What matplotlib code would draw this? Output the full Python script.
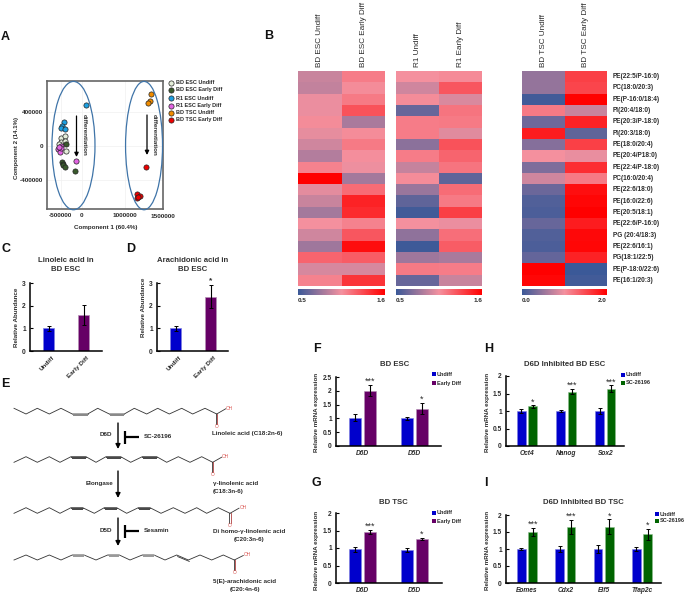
import matplotlib
matplotlib.use("Agg")
import matplotlib.pyplot as plt
from matplotlib.cm import ScalarMappable
from matplotlib.colors import LinearSegmentedColormap, Normalize
from matplotlib.patches import Ellipse

W, H = 685, 596
plt.rcParams['font.family'] = ['Liberation Sans', 'DejaVu Sans']

# panel A: PCA scores
pca_names = ["BD ESC Undiff", "BD ESC Early Diff", "R1 ESC Undiff", "R1 ESC Early Diff", "BD TSC Undiff", "BD TSC Early Diff"]
pca_colors = ["#e4edd9", "#3a5a2c", "#1c9fe0", "#e264e2", "#f08c00", "#ee0000"]
pca_x = [
    [-488000, -388000, -496000, -395000, -372000, -527000],
    [-372000, -465000, -434000, -450000, -395000, -170000],
    [-411000, -465000, -488000, -388000, 93000],
    [-496000, -550000, -504000, -481000, -132000, -527000],
    [1612000, 1574000, 1527000],
    [1488000, 1287000, 1349000, 1271000, 1295000],
]
pca_y = [
    [90000, 113000, 51000, 62000, -55000, 23000],
    [19000, -185000, -212000, -228000, -248000, -295000],
    [286000, 235000, 207000, 196000, 486000],
    [3000, -36000, -67000, -24000, -177000, -8000],
    [611000, 533000, 509000],
    [-252000, -565000, -589000, -608000, -597000],
]

# panel B: lipid heatmaps
lipids = ["PE(22:5/P-16:0)", "PC(18:0/20:3)", "PE(P-16:0/18:4)", "PI(20:4/18:0)", "PE(20:3/P-18:0)",
          "PI(20:3/18:0)", "PE(18:0/20:4)", "PE(20:4/P18:0)", "PE(22:4/P-18:0)", "PC(16:0/20:4)",
          "PE(22:6/18:0)", "PE(16:0/22:6)", "PE(20:5/18:1)", "PE(22:6/P-16:0)", "PG (20:4/18:3)",
          "PE(22:6/16:1)", "PG(18:1/22:5)", "PE(P-18:0/22:6)", "PE(16:1/20:3)"]
bd_esc_undiff = [.92, .90, 1.02, 1.02, 1.07, 1.01, .94, .86, 1.11, 1.6, 1.0, .92, .81, 1.05, .94, .80, 1.22, .96, 1.11]
bd_esc_early = [1.13, 1.07, 1.14, 1.29, .83, 1.07, 1.14, 1.06, 1.03, .81, 1.19, 1.47, 1.44, 1.11, 1.27, 1.55, 1.25, .96, 1.40]
r1_undiff = [1.05, .94, 1.07, .63, 1.13, 1.13, .74, 1.13, .91, 1.07, .78, .61, .52, 1.05, .75, .51, .80, 1.14, .63]
r1_early = [1.08, 1.27, .97, 1.16, 1.14, .99, 1.29, 1.22, 1.16, .61, 1.19, 1.14, 1.36, 1.02, 1.18, 1.25, .83, 1.13, .92]
bd_tsc_undiff = [.48, .48, .04, 1.16, .28, 1.80, .40, 1.0, .36, .80, .26, .12, .10, .24, .12, .10, .22, 2.0, 1.96]
bd_tsc_early = [1.56, 1.52, 2.0, .76, 1.76, .20, 1.56, .94, 1.68, 1.16, 1.90, 1.96, 2.0, 1.80, 1.94, 1.96, 1.76, 0.0, .04]

# panels C, D: relative abundance
abund_labels = ["Undiff", "Early Diff"]
linoleic = [1.0, 1.6]
linoleic_err = [.1, .45]
arachidonic = [1.0, 2.4]
arachidonic_err = [.12, .52]

# panels F-I: qPCR, each as (control, treated)
f_genes = ["D6D", "D5D"]
f_ctrl, f_ctrl_err = [1.03, 1.0], [.13, .05]
f_trt, f_trt_err = [2.0, 1.35], [.2, .2]
f_stars = ["***", "*"]
g_genes = ["D6D", "D5D"]
g_ctrl, g_ctrl_err = [.97, .95], [.07, .06]
g_trt, g_trt_err = [1.45, 1.25], [.06, .03]
g_stars = ["***", "*"]
h_genes = ["Oct4", "Nanog", "Sox2"]
h_ctrl, h_ctrl_err = [1.0, 1.0, 1.0], [.05, .02, .08]
h_trt, h_trt_err = [1.13, 1.55, 1.63], [.03, .07, .1]
h_stars = ["*", "***", "***"]
i_genes = ["Eomes", "Cdx2", "Elf5", "Tfap2c"]
i_ctrl, i_ctrl_err = [1.0, 1.0, 1.0, 1.0], [.04, .08, .11, .07]
i_trt, i_trt_err = [1.5, 1.65, 1.65, 1.43], [.13, .2, .22, .17]
i_stars = ["***", "***", "*", "*"]

BLUE = "#0000cc"
PURPLE = "#660066"
GREEN = "#006400"
TXT = "#2b2b2b"

fig = plt.figure(figsize=(W / 100, H / 100), dpi=100)


def ax_px(l, t, r, b, **kw):
    # axes from pixel edges, y counted from the top of the image
    return fig.add_axes([l / W, 1 - b / H, (r - l) / W, (b - t) / H], **kw)


# overlay in pixel coordinates for letters, labels and the pathway
ov = ax_px(0, 0, W, H, zorder=5)
ov.set_xlim(0, W)
ov.set_ylim(H, 0)
ov.axis("off")
ov.patch.set_alpha(0)


def label(x, y, s, size=4.5, ha="left", va="center", weight="bold", **kw):
    ov.text(x, y, s, fontsize=size, ha=ha, va=va, fontweight=weight, color=kw.pop("color", TXT), **kw)


for s, x, y in [("A", 1, 37), ("B", 264, 36), ("C", 1, 249), ("D", 126, 249), ("E", 1, 384),
                ("F", 313, 349), ("G", 312, 483), ("H", 484, 349), ("I", 484, 483)]:
    label(x, y, s, size=9, weight="bold", color="#111111")

# ---- A ----
ax = ax_px(47, 81, 163, 209)
ax.set_xlim(-814000, 1884000)
ax.set_ylim(-741000, 765000)
ax.grid(color="#f0f0f0", lw=0.5)
ax.set_axisbelow(True)
for name, c, xs, ys in zip(pca_names, pca_colors, pca_x, pca_y):
    ax.scatter(xs, ys, s=14, c=c, edgecolors="#222222", linewidths=0.5, zorder=3)
for cx, wd in [(-198000, 1000000), (1443000, 860000)]:
    ax.add_patch(Ellipse((cx, 5000), wd, 1510000, fill=False, ec="#3f74a8", lw=0.9, zorder=4, clip_on=False))
ax.set_xticks([-500000, 0, 1000000])
ax.set_xticklabels(["-500000", "0", "1000000"], fontsize=4.6, fontweight="bold", color=TXT)
ax.set_yticks([-400000, 0, 400000])
ax.set_yticklabels(["-400000", "0", "400000"], fontsize=4.6, fontweight="bold", color=TXT)
ax.tick_params(length=0, pad=3)
for sp in ax.spines.values():
    sp.set_color("#666666")
    sp.set_linewidth(1.2)
label(163, 217, "1500000", size=4.6, ha="center")
label(106, 227, "Component 1 (60.4%)", size=4.5, ha="center")
label(17, 148, "Component 2 (14.1%)", size=4.4, ha="center", rotation=90)
for i, (name, c) in enumerate(zip(pca_names, pca_colors)):
    y = [83, 90, 98, 106, 113, 120][i]
    ov.scatter([171], [y], s=14, c=c, edgecolors="#222222", linewidths=0.5)
    label(176, y, name, size=4.0)
for xa, ytop, ybot, xt in [(76.5, 116, 157, 84), (147, 115, 155, 154)]:
    ov.annotate("", xy=(xa, ybot), xytext=(xa, ytop),
                arrowprops=dict(arrowstyle="-|>", color="black", lw=0.9, mutation_scale=6, shrinkA=0, shrinkB=0))
    label(xt, 135, "differentiation", size=4.5, ha="center", rotation=270)

# ---- B ----
hm_cmap = LinearSegmentedColormap.from_list("hm", ["#3b5998", "#f4919f", "#ff0000"])
hm_panels = [
    (298, 385, .5, 1.6, "0.5", "1.6", bd_esc_undiff, bd_esc_early, "BD ESC Undiff", "BD ESC Early Diff"),
    (396, 482, .5, 1.6, "0.5", "1.6", r1_undiff, r1_early, "R1 Undiff", "R1 Early Diff"),
    (522, 607, 0.0, 2.0, "0.0", "2.0", bd_tsc_undiff, bd_tsc_early, "BD TSC Undiff", "BD TSC Early Diff"),
]
for l, r, vmin, vmax, lo, hi, col1, col2, n1, n2 in hm_panels:
    hax = ax_px(l, 71, r, 286)
    grid = [[a, b] for a, b in zip(col1, col2)]
    hax.pcolormesh(grid, cmap=hm_cmap, vmin=vmin, vmax=vmax, edgecolors="face", linewidth=0)
    hax.invert_yaxis()
    hax.axis("off")
    cax = ax_px(l, 289, r, 295)
    cb = fig.colorbar(ScalarMappable(Normalize(vmin, vmax), hm_cmap), cax=cax, orientation="horizontal")
    cb.outline.set_visible(False)
    cb.set_ticks([vmin, vmax])
    cb.set_ticklabels([lo, hi], fontsize=4.6, fontweight="bold", color=TXT)
    cax.tick_params(length=0, pad=2)
    cax.get_xticklabels()[0].set_ha("left")
    cax.get_xticklabels()[1].set_ha("right")
    for frac, s in [(.25, n1), (.75, n2)]:
        label(l + (r - l) * frac, 67, s, size=5.9, ha="center", va="bottom", rotation=90, weight="normal")
for i, s in enumerate(lipids):
    label(613, 71 + (i + .5) * 215 / 19, s, size=4.7)


def style_bars(a, yticks):
    a.spines["top"].set_visible(False)
    a.spines["right"].set_visible(False)
    a.spines["left"].set_linewidth(1.1)
    a.spines["bottom"].set_linewidth(1.1)
    a.set_yticks(yticks)
    a.set_yticklabels([f"{t:g}" for t in yticks], fontsize=4.8, fontweight="bold", color=TXT)
    a.tick_params(axis="y", length=2, width=0.8, pad=3, direction="in")
    a.tick_params(axis="x", length=0)
    a.patch.set_alpha(0)


# ---- C, D ----
for l, r, c0, vals, errs, title, tcx, yc in [
    (30, 102, 48.5, linoleic, linoleic_err, "Linoleic acid in\nBD ESC", 66, 317),
    (157, 228, 175.5, arachidonic, arachidonic_err, "Arachidonic acid in\nBD ESC", 193, 307),
]:
    a = ax_px(l, 283, r, 351)
    a.set_xlim((l - c0) / 35, (r - c0) / 35)
    a.set_ylim(0, 3)
    a.bar([0, 1], vals, width=11 / 35, color=[BLUE, PURPLE], edgecolor=["#7f7fe0", "#b58fb5"], linewidth=0.5,
          yerr=errs, ecolor="black", error_kw=dict(lw=0.8, capsize=1.5, capthick=0.7))
    style_bars(a, [0, 1, 2, 3])
    a.set_xticks([])
    label(tcx, 265, title, size=5.6, ha="center", color="#333333", linespacing=1.35)
    label(l - 13, yc, "Relative Abundance", size=4.5, ha="center", rotation=90)
    for i, s in enumerate(abund_labels):
        ov.text(c0 + 35 * i + 3, 355, s, fontsize=4.6, fontweight="bold", rotation=45, ha="right", va="top",
                rotation_mode="anchor", color=TXT)
label(210.5, 281, "*", size=6, ha="center", va="center")


# ---- F, G, H, I ----
def qpcr(l, t, r, b, ymax, yticks, c0, step, bw, off, genes, ctrl, cerr, trt, terr, stars, color2):
    a = ax_px(l, t, r, b)
    a.set_xlim((l - c0) / step, (r - c0) / step)
    a.set_ylim(0, ymax)
    xs = list(range(len(genes)))
    ek = dict(lw=0.8, capsize=1.5, capthick=0.7)
    a.bar([x - off / step for x in xs], ctrl, width=bw / step, color=BLUE, edgecolor="#7f7fe0", linewidth=0.4,
          yerr=cerr, ecolor="black", error_kw=ek)
    edge2 = "#b58fb5" if color2 == PURPLE else "#8fbf8f"
    a.bar([x + off / step for x in xs], trt, width=bw / step, color=color2, edgecolor=edge2, linewidth=0.4,
          yerr=terr, ecolor="black", error_kw=ek)
    for x, v, e, s in zip(xs, trt, terr, stars):
        a.text(x + off / step, v + e - ymax * .012, s, ha="center", va="bottom", fontsize=6.5, color=TXT)
    style_bars(a, yticks)
    a.set_xticks(xs)
    a.set_xticklabels(genes, fontsize=4.8, fontweight="bold", style="italic", color=TXT)
    a.tick_params(axis="x", length=0, pad=3)
    return a


qpcr(336, 377, 441, 446, 2.5, [0, .5, 1, 1.5, 2, 2.5], 362.5, 52, 11.7, 7.3, f_genes, f_ctrl, f_ctrl_err, f_trt, f_trt_err, f_stars, PURPLE)
qpcr(336, 513, 442, 583, 2, [0, .5, 1, 1.5, 2], 362.5, 52, 11.7, 7.3, g_genes, g_ctrl, g_ctrl_err, g_trt, g_trt_err, g_stars, PURPLE)
qpcr(506, 376, 624, 446, 2, [0, .5, 1, 1.5, 2], 527, 39.2, 8.7, 5.7, h_genes, h_ctrl, h_ctrl_err, h_trt, h_trt_err, h_stars, GREEN)
qpcr(506, 515, 661, 583, 2, [0, .5, 1, 1.5, 2], 527, 38.3, 8.7, 5.7, i_genes, i_ctrl, i_ctrl_err, i_trt, i_trt_err, i_stars, GREEN)

for x, y, s in [(395, 364, "BD ESC"), (393, 502, "BD TSC"), (565, 364, "D6D Inhibited BD ESC"), (583, 502, "D6D Inhibited BD TSC")]:
    label(x, y, s, size=5.6, ha="center", color="#333333")
for x, y in [(317, 412), (317, 550), (488, 412), (488, 550)]:
    label(x, y, "Relative mRNA expression", size=4.5, ha="center", rotation=90)
for x, y1, y2, c, n in [(434, 374, 383, PURPLE, "Early Diff"), (434, 513, 521, PURPLE, "Early Diff"),
                        (623, 375, 383, GREEN, "SC-26196"), (657, 514, 521, GREEN, "SC-26196")]:
    ov.scatter([x, x], [y1, y2], s=5, marker="s", c=[BLUE, c], linewidths=0)
    label(x + 3, y1, "Undiff", size=4.0)
    label(x + 3, y2, n, size=4.0)


# ---- E: pathway ----
def chain(xs, y_hi, y_lo, start_lo, doubles, color, trans=None):
    # zigzag carbon chain; doubles are bond indexes drawn flat with a second line
    y = y_lo if start_lo else y_hi
    pts = [(xs[0], y)]
    for i in range(1, len(xs)):
        if i - 1 not in doubles:
            y = y_hi if y == y_lo else y_lo
        pts.append((xs[i], y))
    ov.plot([p[0] for p in pts], [p[1] for p in pts], color="#333333", lw=0.6)
    for i in doubles:
        ov.plot([pts[i][0] + 1, pts[i + 1][0] - 1], [pts[i][1] + 1.4] * 2, color=color, lw=0.7)
        ov.plot([pts[i][0], pts[i + 1][0]], [pts[i][1]] * 2, color=color, lw=0.7)
    if trans is not None:
        ov.plot([pts[trans][0] + 1, pts[trans + 1][0] + 1], [pts[trans][1] + 1.6, pts[trans + 1][1] + 1.4], color="#333333", lw=0.6)
    return pts[-1]


def acid(pts_end, y_oh):
    x, y = pts_end
    ov.plot([x, x + 9], [y, y_oh + 0.5], color="#333333", lw=0.6)
    ov.plot([x - .6, x - .6], [y, y + 10], color="#333333", lw=0.6)
    ov.plot([x + .6, x + .6], [y, y + 10], color="#b04040", lw=0.6)
    ov.text(x + 9.5, y_oh, "OH", fontsize=3.4, color="#d9534f", va="center")
    ov.text(x, y + 12.5, "O", fontsize=3.4, color="#d9534f", va="center", ha="center")


c1 = [14, 26, 37.3, 49.3, 61, 72.3, 87.7, 97.7, 109.3, 124.3, 134.3, 146.7, 157.7, 169.3, 181.7, 192.7, 205, 216.7]
c2 = [14, 26, 37.3, 49.3, 60, 71, 86, 96, 106, 120.7, 130.7, 142.3, 156.7, 166.7, 178.3, 190, 201.7, 212.7]
c3 = [14, 26, 37.3, 49.3, 60, 71, 82.7, 94.3, 104.3, 116.7, 126.7, 138.3, 150, 161, 173.3, 185, 196.7, 206.7, 218.3, 230]
c4 = [14, 26, 37.3, 49.3, 61, 72.3, 84, 96, 107.7, 119.3, 130, 142.3, 154, 165, 176.7, 188.3, 200, 211.7, 223.3, 234.3]

e1 = chain(c1, 408.3, 414, False, [5, 8], "#888888")
acid(e1, 408.3)
e2 = chain(c2, 456.7, 462.3, True, [5, 8, 11], "#444444")
acid(e2, 456.7)
e3 = chain(c3, 507.7, 513.3, True, [5, 8, 11], "#444444")
acid(e3, 507.7)
e4 = chain(c4, 555, 560, True, [5, 8, 11], "#999999", trans=14)
acid(e4, 555)

for y0, y1 in [(423, 449), (471, 498), (518, 546)]:
    ov.annotate("", xy=(118, y1), xytext=(118, y0),
                arrowprops=dict(arrowstyle="-|>", color="black", lw=1.0, mutation_scale=7, shrinkA=0, shrinkB=0))
for yc in [437, 531]:
    ov.plot([125, 125], [yc - 6.5, yc + 6.5], color="black", lw=1.6, solid_capstyle="butt")
    ov.plot([125, 139], [yc, yc], color="black", lw=1.6, solid_capstyle="butt")

label(106, 434, "D6D", ha="center")
label(144, 437, "SC-26196")
label(212, 434, "Linoleic acid (C18:2n-6)")
label(113, 484, "Elongase", ha="right")
label(213, 484, "γ-linolenic acid")
label(213, 491.5, "(C18:3n-6)")
label(106, 530, "D5D", ha="center")
label(144, 531, "Sesamin")
label(249, 532, "Di homo-γ-linolenic acid", ha="center")
label(249, 540, "(C20:3n-6)", ha="center")
label(245, 582, "5(E)-arachidonic acid", ha="center")
label(245, 590, "(C20:4n-6)", ha="center")

fig.savefig("out.png", dpi=100)
